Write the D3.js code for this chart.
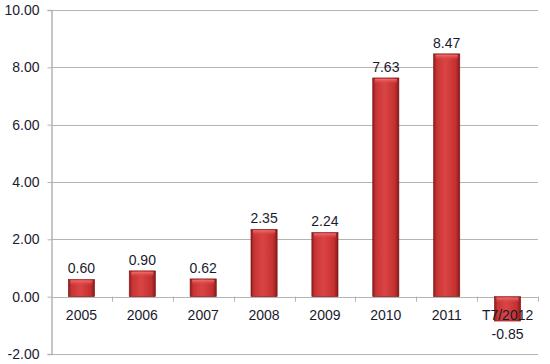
<!DOCTYPE html>
<html lang="en">
	<head>
		<meta charset="utf-8">
		<title>Bar chart</title>
		<script type="text/javascript" src="https://cdn.jsdelivr.net/npm/d3@7"></script>
		<style type="text/css">
			body { margin: 0; background: white; }
			text { font-family: "Liberation Sans", Arial, sans-serif; }
		</style>
	</head>
	<body>
		<script type="text/javascript">

			//Width and height
			var w = 550;
			var h = 364;

			var years = ["2005", "2006", "2007", "2008", "2009", "2010", "2011", "T7/2012"];
			var values = [0.60, 0.90, 0.62, 2.35, 2.24, 7.63, 8.47, -0.85];
			var yTicks = [-2, 0, 2, 4, 6, 8, 10];

			//Plot edges (note: "top" is taken by window.top)
			var plotLeft = 51, plotRight = 538, plotTop = 10, plotBottom = 354;

			//Plain hyphen for negatives, like the original
			var fmt = function(d) { return d3.format(".2f")(d).replace("\u2212", "-"); };

			var svg = d3.select("body")
						.append("svg")
						.attr("width", w)
						.attr("height", h);

			var defs = svg.append("defs");

			var grad = defs.append("linearGradient")
						.attr("id", "barGrad")
						.attr("x1", "0%").attr("x2", "100%")
						.attr("y1", "0%").attr("y2", "0%");
			grad.append("stop").attr("offset", "0%").attr("stop-color", "#8c1c1c");
			grad.append("stop").attr("offset", "12%").attr("stop-color", "#c83434");
			grad.append("stop").attr("offset", "45%").attr("stop-color", "#da4444");
			grad.append("stop").attr("offset", "85%").attr("stop-color", "#c43030");
			grad.append("stop").attr("offset", "100%").attr("stop-color", "#861a1a");

			var bevel = defs.append("linearGradient")
						.attr("id", "bevelGrad")
						.attr("x1", "0%").attr("x2", "0%")
						.attr("y1", "0%").attr("y2", "100%");
			bevel.append("stop").attr("offset", "0%").attr("stop-color", "#f07070");
			bevel.append("stop").attr("offset", "100%").attr("stop-color", "#da4444").attr("stop-opacity", 0);

			//Scales
			var xScale = d3.scaleBand()
						.domain(years)
						.range([plotLeft, plotRight]);

			var yScale = d3.scaleLinear()
						.domain([-2, 10])
						.range([plotBottom, plotTop]);

			//Gridlines
			svg.append("g")
				.selectAll("line")
				.data(yTicks)
				.enter()
				.append("line")
				.attr("x1", plotLeft)
				.attr("x2", plotRight)
				.attr("y1", function(d) { return Math.round(yScale(d)) + 0.5; })
				.attr("y2", function(d) { return Math.round(yScale(d)) + 0.5; })
				.attr("stroke", "#b4b4b4")
				.attr("stroke-width", 1.2);

			//Y axis
			var yAxis = d3.axisLeft(yScale)
						.tickValues(yTicks)
						.tickFormat(fmt)
						.tickSize(4)
						.tickPadding(8);

			var yg = svg.append("g")
				.attr("transform", "translate(" + (plotLeft + 0.5) + ",0)")
				.call(yAxis);
			yg.select(".domain").attr("stroke", "#b4b4b4").attr("stroke-width", 1.5);
			yg.selectAll(".tick line").attr("stroke", "#b4b4b4");
			yg.selectAll(".tick text")
				.attr("fill", "#1a1a2e")
				.attr("font-size", 14)
				.attr("font-family", "Liberation Sans, Arial, sans-serif");

			//Category tick marks on the zero line
			svg.append("g")
				.selectAll("line")
				.data(years)
				.enter()
				.append("line")
				.attr("x1", function(d) { return Math.round(xScale(d) + xScale.step()) + 0.5; })
				.attr("x2", function(d) { return Math.round(xScale(d) + xScale.step()) + 0.5; })
				.attr("y1", yScale(0))
				.attr("y2", yScale(0) + 5)
				.attr("stroke", "#b4b4b4");

			var bw = xScale.bandwidth() * 0.43;

			//Bars
			var bars = svg.append("g")
				.selectAll("g")
				.data(values)
				.enter()
				.append("g");

			bars.append("rect")
				.attr("x", function(d, i) { return xScale(years[i]) + xScale.bandwidth() / 2 - bw / 2; })
				.attr("y", function(d) { return yScale(Math.max(d, 0)); })
				.attr("width", bw)
				.attr("height", function(d) { return Math.abs(yScale(d) - yScale(0)); })
				.attr("fill", "url(#barGrad)")
				.attr("stroke", "#7a1515")
				.attr("stroke-width", 0.6);

			bars.append("rect")
				.attr("x", function(d, i) { return xScale(years[i]) + xScale.bandwidth() / 2 - bw / 2 + 2; })
				.attr("y", function(d) { return yScale(Math.max(d, 0)) + 1; })
				.attr("width", bw - 4)
				.attr("height", 5)
				.attr("fill", "url(#bevelGrad)");

			//Category labels
			svg.append("g")
				.selectAll("text")
				.data(years)
				.enter()
				.append("text")
				.text(function(d) { return d; })
				.attr("x", function(d) { return xScale(d) + xScale.bandwidth() / 2; })
				.attr("y", yScale(0) + 23)
				.attr("text-anchor", "middle")
				.attr("font-size", 14)
				.attr("fill", "#1a1a2e");

			//Value labels
			svg.append("g")
				.selectAll("text")
				.data(values)
				.enter()
				.append("text")
				.text(fmt)
				.attr("x", function(d, i) { return xScale(years[i]) + xScale.bandwidth() / 2; })
				.attr("y", function(d) { return d >= 0 ? yScale(d) - 6 : yScale(d) + 18; })
				.attr("text-anchor", "middle")
				.attr("font-size", 14)
				.attr("fill", "#1a1a2e");

		</script>
	</body>
</html>
